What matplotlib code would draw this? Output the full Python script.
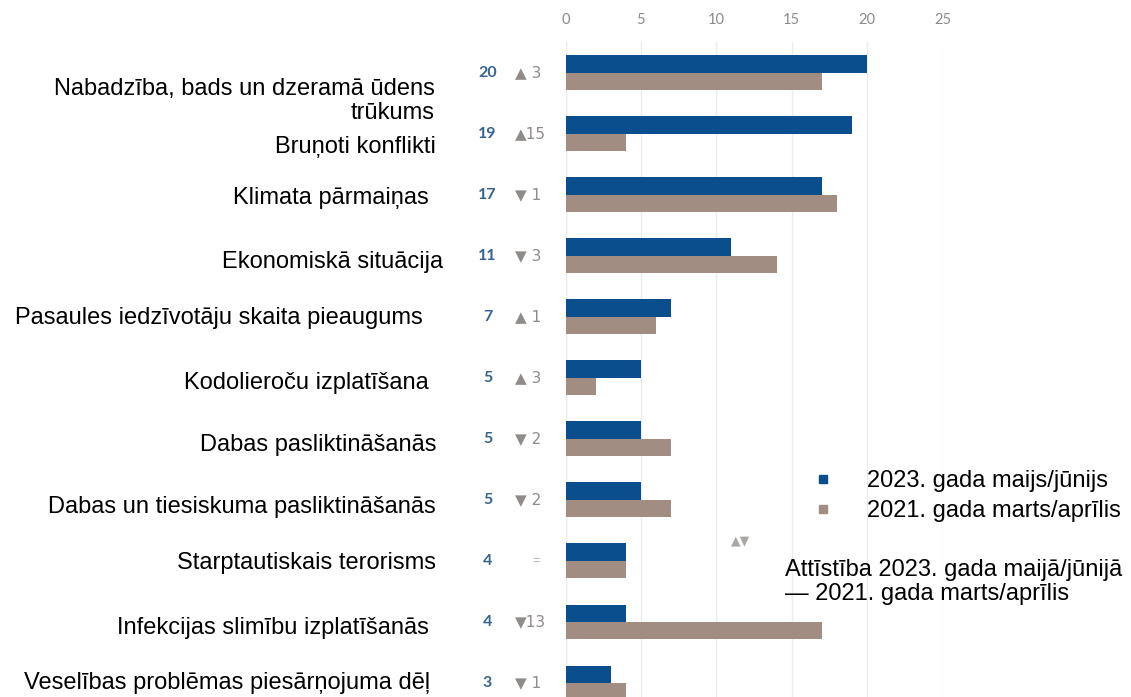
import matplotlib
matplotlib.use("Agg")
import matplotlib.pyplot as plt
import matplotlib.transforms as mtransforms
from matplotlib.lines import Line2D
import numpy as np

# values
categories = [
    "Nabadzība, bads un dzeramā ūdens\ntrūkums",
    "Bruņoti konflikti",
    "Klimata pārmaiņas",
    "Ekonomiskā situācija",
    "Pasaules iedzīvotāju skaita pieaugums",
    "Kodolieroču izplatīšana",
    "Dabas pasliktināšanās",
    "Dabas un tiesiskuma pasliktināšanās",
    "Starptautiskais terorisms",
    "Infekcijas slimību izplatīšanās",
    "Veselības problēmas piesārņojuma dēļ",
]
values_2023 = [20, 19, 17, 11, 7, 5, 5, 5, 4, 4, 3]
values_2021 = [17, 4, 18, 14, 6, 2, 7, 7, 4, 17, 4]
changes = ["▲ 3", "▲15", "▼ 1", "▼ 3", "▲ 1", "▲ 3", "▼ 2", "▼ 2", "=", "▼13", "▼ 1"]
xticks = [0, 5, 10, 15, 20, 25]

series_labels = ["2023. gada maijs/jūnijs", "2021. gada marts/aprīlis"]
note_text = "Attīstība 2023. gada maijā/jūnijā\n— 2021. gada marts/aprīlis"

# layout (pixels of the 1131x697 picture)
W, H = 1131, 697
label_right = [435, 436, 429, 443, 423, 429, 436, 436, 436, 429, 430]
label_shift = [0.47, 0.22, 0.05, 0.1, 0.02, 0.08, 0.1, 0.12, 0.04, 0.1, 0.0]

BLUE = "#0b4e8d"
TAUPE = "#a28d83"
GREY = "#8f8b88"
NUM_BLUE = "#35648f"

plt.rcParams["font.family"] = ["Liberation Sans", "DejaVu Sans"]

fig = plt.figure(figsize=(W / 100, H / 100), dpi=100)
ax = fig.add_axes([565.5 / W, 0.0, 377 / W, 1 - 42 / H])

y = np.arange(len(categories))
h = 0.285
ax.barh(y - h / 2, values_2023, height=h, color=BLUE)
ax.barh(y + h / 2, values_2021, height=h, color=TAUPE)

ax.set_xlim(0, 25)
ax.set_ylim(10.23, -0.5)
ax.set_xticks(xticks)
ax.xaxis.tick_top()
ax.tick_params(axis="x", length=0, pad=10.5, labelsize=10.5, labelcolor="#8a8a8a")
for t in ax.get_xticklabels():
    t.set_family(["Lato", "DejaVu Sans"])
ax.set_yticks([])
ax.grid(axis="x", color="#ececec", lw=1)
ax.set_axisbelow(True)
for s in ax.spines.values():
    s.set_visible(False)
ax.axvline(0, color="#e6e6e6", lw=1, zorder=0)

# labels left of the bars: x in figure pixels, y in data units
tr = mtransforms.blended_transform_factory(fig.transFigure, ax.transData)
for i, cat in enumerate(categories):
    ax.text(label_right[i] / W, i + label_shift[i], cat, transform=tr,
            ha="right", va="center", fontsize=17, color="black",
            multialignment="right", linespacing=1.1)
    ax.text(487.5 / W, i, str(values_2023[i]), transform=tr, ha="center",
            va="center", fontsize=11.5, fontweight="bold", color=NUM_BLUE,
            family=["Lato", "DejaVu Sans"])
    if changes[i] == "=":
        ax.text(536 / W, i, changes[i], transform=tr, ha="center",
                va="center", fontsize=9, color="#b0adab")
    else:
        ax.text(515 / W, i, changes[i], transform=tr, ha="left",
                va="center", fontsize=11, color=GREY,
                family=["DejaVu Sans"])

handles = [
    Line2D([], [], ls="none", marker="s", markersize=6, color=BLUE),
    Line2D([], [], ls="none", marker="s", markersize=6, color=TAUPE),
]
ax.legend(handles=handles, labels=series_labels, loc="upper left",
          bbox_to_anchor=(817 / W, 1 - 470 / H),
          bbox_transform=fig.transFigure, frameon=False, fontsize=17,
          handlelength=0.5, handletextpad=1.6, labelspacing=0.36,
          borderpad=0, borderaxespad=0)

fig.text(741 / W, 1 - 541 / H, "▲▼", ha="center", va="center",
         fontsize=9, color="#aaa6a3", family=["DejaVu Sans"])
fig.text(785 / W, 1 - 582 / H, note_text, ha="left", va="center",
         fontsize=17, color="black", linespacing=1.15)

fig.savefig("out.png", dpi=100)
